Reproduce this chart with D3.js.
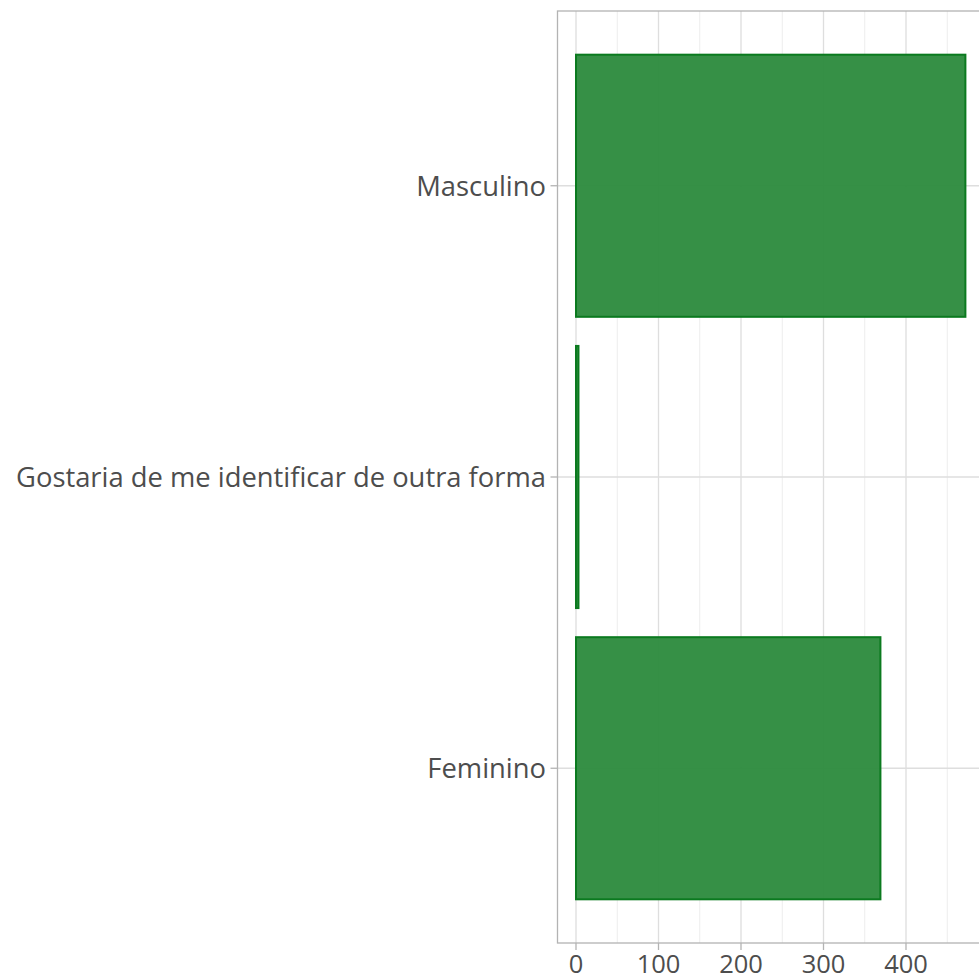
<!DOCTYPE html>
<html><head><meta charset="utf-8">
<script src="https://cdn.jsdelivr.net/npm/d3@7"></script>
<style>html,body{margin:0;padding:0;background:#fff}svg{display:block}</style>
</head><body>
<svg id="chart" width="979" height="977"></svg>
<script>
const categories = ["Masculino", "Gostaria de me identificar de outra forma", "Feminino"];
const counts = [472, 3, 369];
const xTicks = [0, 100, 200, 300, 400];
const xMinor = [50, 150, 250, 350, 450];

const panel = {left: 557.5, top: 11, bottom: 943};
const svg = d3.select("#chart");
const fontFam = "'Open Sans', sans-serif";

const x = d3.scaleLinear().domain([0, 100]).range([576, 658.5]);
const step = (panel.bottom - panel.top) / 3.2;
const center = c => panel.top + step * (0.6 + categories.indexOf(c));
const bw = step * 0.9;
const panelRight = x(d3.max(counts) * 1.05);

const g = svg.append("g");
svg.append("clipPath").attr("id","pc").append("rect")
  .attr("x", panel.left).attr("y", panel.top).attr("width", panelRight - panel.left).attr("height", panel.bottom - panel.top);
const pg = g.append("g").attr("clip-path","url(#pc)");

pg.selectAll("line.minor").data(xMinor).join("line")
  .attr("x1", d => x(d)).attr("x2", d => x(d)).attr("y1", panel.top).attr("y2", panel.bottom)
  .attr("stroke", "#ededed").attr("stroke-width", 1);
pg.selectAll("line.major").data(xTicks).join("line")
  .attr("x1", d => x(d)).attr("x2", d => x(d)).attr("y1", panel.top).attr("y2", panel.bottom)
  .attr("stroke", "#dedede").attr("stroke-width", 1.3);
pg.selectAll("line.hmaj").data(categories).join("line")
  .attr("x1", panel.left).attr("x2", panelRight).attr("y1", d => center(d)).attr("y2", d => center(d))
  .attr("stroke", "#dedede").attr("stroke-width", 1.3);

pg.selectAll("rect.bar").data(categories).join("rect")
  .attr("x", x(0)).attr("y", d => center(d) - bw / 2)
  .attr("width", (d, i) => x(counts[i]) - x(0)).attr("height", bw)
  .attr("fill", "#2f8c40").attr("fill-opacity", 0.97)
  .attr("stroke", "#0b7a1f").attr("stroke-width", 2);

g.append("rect").attr("x", panel.left).attr("y", panel.top)
  .attr("width", panelRight - panel.left).attr("height", panel.bottom - panel.top)
  .attr("fill", "none").attr("stroke", "#b3b3b3").attr("stroke-width", 1.3);

const xa = g.append("g");
xa.selectAll("line").data(xTicks).join("line")
  .attr("x1", d => x(d)).attr("x2", d => x(d)).attr("y1", panel.bottom).attr("y2", panel.bottom + 7)
  .attr("stroke", "#b3b3b3").attr("stroke-width", 1.3);
const xt = xa.selectAll("text").data(xTicks).join("text")
  .attr("x", d => x(d)).attr("y", 972.5)
  .attr("text-anchor", "middle").attr("fill", "#4d4d4d")
  .style("font-family", fontFam).style("font-size", "25.5px").text(d => d);

const ya = g.append("g");
ya.selectAll("line").data(categories).join("line")
  .attr("x1", panel.left - 7).attr("x2", panel.left).attr("y1", d => center(d)).attr("y2", d => center(d))
  .attr("stroke", "#b3b3b3").attr("stroke-width", 1.3);
const yt = ya.selectAll("text").data(categories).join("text")
  .attr("x", 546).attr("y", d => center(d)).attr("dy", "0.36em")
  .attr("text-anchor", "end").attr("fill", "#4d4d4d")
  .style("font-family", fontFam).style("font-size", "25px").text(d => d);

// fit font size so the longest label spans the reference width
const longest = yt.nodes()[1];
const wNow = longest.getComputedTextLength();
const fs = 25 * 530 / wNow;
yt.style("font-size", fs + "px");
</script>
</body></html>
